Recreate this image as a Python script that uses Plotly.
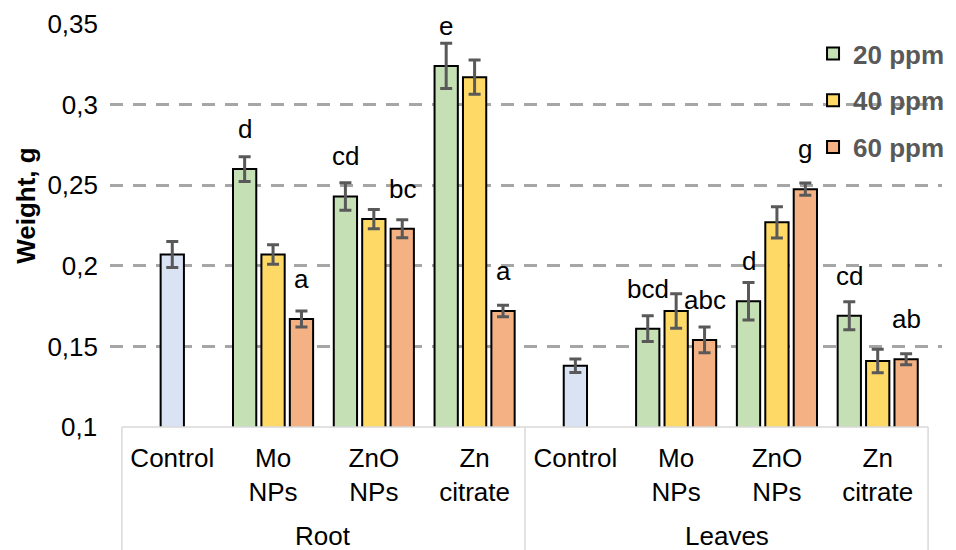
import plotly.graph_objects as go

# ---- data ----
tick_labels = ["Control", "Mo<br>NPs", "ZnO<br>NPs", "Zn<br>citrate",
               "Control", "Mo<br>NPs", "ZnO<br>NPs", "Zn<br>citrate"]
groups = ["Root", "Leaves"]
series_names = ["20 ppm", "40 ppm", "60 ppm"]

control_x = [0, 4]
control_vals = [0.207, 0.138]
control_err = [0.008, 0.0042]

treat_x = [1, 2, 3, 5, 6, 7]
vals_20 = [0.260, 0.243, 0.324, 0.161, 0.178, 0.169]
vals_40 = [0.207, 0.229, 0.317, 0.172, 0.227, 0.141]
vals_60 = [0.167, 0.223, 0.172, 0.154, 0.2475, 0.142]
err_20 = [0.0077, 0.0085, 0.014, 0.008, 0.0116, 0.0087]
err_40 = [0.006, 0.006, 0.0106, 0.0107, 0.0097, 0.0073]
err_60 = [0.005, 0.0056, 0.0036, 0.008, 0.0038, 0.0034]
letters_20 = ["d", "cd", "e", "bcd", "d", "cd"]
letters_60 = ["a", "bc", "a", "abc", "g", "ab"]

y_tickvals = [0.15, 0.2, 0.25, 0.3, 0.35]
y_ticktext = ["0,15", "0,2", "0,25", "0,3", "0,35"]
y_base_label = "0,1"
y_title = "Weight, g"

# ---- style ----
FONT = "Liberation Sans, Arial, sans-serif"
FS = 26
colors = ["#C5E0B4", "#FFD966", "#F4B183"]
control_color = "#DAE3F3"
W = 0.231      # bar width (category units)
P = 0.282      # bar pitch
offsets = [-P - W / 2, -W / 2, P - W / 2]
err_style = dict(type="data", color="#595959", thickness=3, width=6, visible=True)

fig = go.Figure()

fig.add_trace(go.Bar(
    x=control_x, y=control_vals, width=W, offset=-W / 2,
    marker=dict(color=control_color, line=dict(color="black", width=2)),
    error_y=dict(array=control_err, **err_style),
    showlegend=False, name="Control"))

for name, vals, errs, col, off in zip(series_names, [vals_20, vals_40, vals_60],
                                      [err_20, err_40, err_60], colors, offsets):
    fig.add_trace(go.Bar(
        x=treat_x, y=vals, width=W, offset=off, name=name, legendgroup=name,
        marker=dict(color=col, line=dict(color="black", width=2)),
        error_y=dict(array=errs, **err_style)))

annotations = []
for vals, letters, off in [(vals_20, letters_20, offsets[0]), (vals_60, letters_60, offsets[2])]:
    for xi, v, t in zip(treat_x, vals, letters):
        annotations.append(dict(x=xi + off + W / 2, y=v, text=t, showarrow=False,
                                xref="x", yref="y", yanchor="bottom", yshift=23,
                                font=dict(family=FONT, size=FS, color="black")))

# group labels
for gi, g in enumerate(groups):
    annotations.append(dict(x=gi * 4 + 1.5, y=-0.27, xref="x", yref="paper", text=g,
                            showarrow=False, yanchor="middle",
                            font=dict(family=FONT, size=FS, color="black")))
# base tick label
annotations.append(dict(x=0, y=0.1, xref="paper", yref="y", text=y_base_label,
                        showarrow=False, xanchor="right", xshift=-11,
                        font=dict(family=FONT, size=FS, color="black")))
# y axis title (pixel position converted to paper coords)
annotations.append(dict(x=(25 - 110) / 840, y=(427 - 205) / 403, xref="paper", yref="paper",
                        text="<b>" + y_title + "</b>",
                        showarrow=False, textangle=-90, xanchor="center", yanchor="middle",
                        font=dict(family=FONT, size=FS, color="black")))

shapes = [dict(type="line", xref="x", yref="paper", x0=-0.5, x1=7.5, y0=0, y1=0,
               line=dict(color="#D9D9D9", width=1.5), layer="above")]
for xv in [-0.5, 3.5, 7.5]:
    shapes.append(dict(type="line", xref="x", yref="paper", x0=xv, x1=xv, y0=0, y1=-0.31,
                       line=dict(color="#D9D9D9", width=1.5)))

fig.update_layout(
    width=956, height=550,
    margin=dict(l=110, r=6, t=24, b=123),
    plot_bgcolor="white", paper_bgcolor="white",
    barmode="overlay",
    font=dict(family=FONT, size=FS, color="black"),
    annotations=annotations, shapes=shapes,
    legend=dict(x=0.845, y=0.985, xanchor="left", yanchor="top",
                font=dict(family=FONT, size=FS, color="#595959", weight="bold"),
                tracegroupgap=10, bgcolor="rgba(0,0,0,0)"),
    xaxis=dict(range=[-0.618, 7.638], tickmode="array", tickvals=list(range(8)),
               ticktext=tick_labels, showgrid=False, zeroline=False, showline=False,
               ticks="", ticklabelstandoff=13, tickfont=dict(size=FS)),
    yaxis=dict(range=[0.1, 0.35], tickmode="array", tickvals=y_tickvals,
               ticktext=y_ticktext, showgrid=True, gridcolor="#A6A6A6", gridwidth=3,
               griddash="13px,10px", zeroline=False, showline=False, ticks="",
               ticklabelstandoff=11, tickfont=dict(size=FS),
               automargin=False),
)
fig.update_xaxes(automargin=False)

fig.write_html("out.html")
